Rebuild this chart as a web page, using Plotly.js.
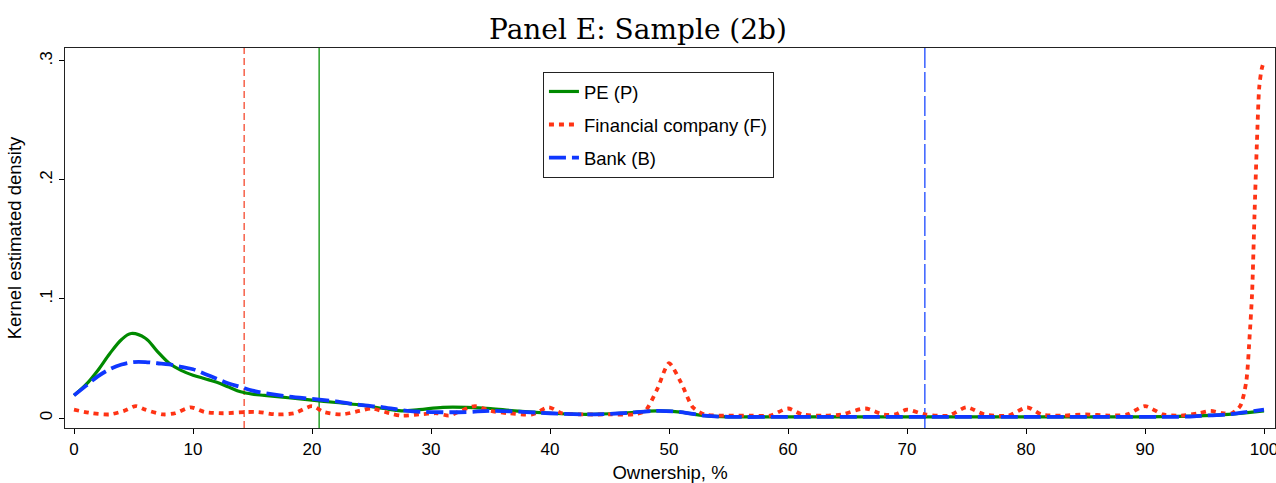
<!DOCTYPE html>
<html>
<head>
<meta charset="utf-8">
<script src="https://cdn.plot.ly/plotly-3.0.1.min.js"></script>
<style>html,body{margin:0;padding:0;background:#fff;}#chart{width:1276px;height:483px;}</style>
</head>
<body>
<div id="chart"></div>
<script>
// Series names
const seriesNames = ["PE (P)", "Financial company (F)", "Bank (B)"];

// PE (P) kernel density
const peX = [0,1,2,3,4,4.8,6,7,8,9,10,11,12,13,14,15,16,18,20,22,24,26,27.5,29,31,33,35,37,40,43,46,49,51,53,55,60,65,70,75,80,85,90,95,97,100];
const peY = [0.019,0.028,0.040,0.054,0.066,0.071,0.067,0.056,0.046,0.040,0.036,0.033,0.030,0.026,0.022,0.020,0.019,0.017,0.015,0.013,0.011,0.008,0.006,0.007,0.009,0.009,0.008,0.006,0.004,0.003,0.004,0.006,0.005,0.002,0.001,0.001,0.001,0.001,0.001,0.001,0.001,0.001,0.002,0.003,0.006];

// Financial company (F) kernel density
const fcX = [0,1.5,3,4.2,5.2,6,7.5,8.5,9.8,11,12.5,14.5,15.5,17,18.5,20,21,22.5,24,25,26.5,27.5,29,30.5,31.5,32.5,33.7,35,36.5,38.5,39.9,41,43,45,47,48,49,50,51,52,53,55,57,58.5,60,61.2,63,64.5,66.5,68,69,70,71.5,73.5,75,76.5,78.5,80.1,81.3,83,85,87,88.5,90,91.5,93,94.5,95.5,96.5,97.3,98,98.5,98.8,99,99.2,99.4,99.6,99.8,100];
const fcY = [0.007,0.004,0.003,0.006,0.010,0.007,0.003,0.004,0.009,0.005,0.004,0.005,0.005,0.003,0.004,0.010,0.005,0.003,0.006,0.008,0.004,0.002,0.003,0.004,0.002,0.006,0.010,0.006,0.004,0.003,0.009,0.004,0.003,0.003,0.003,0.006,0.024,0.046,0.030,0.009,0.003,0.002,0.002,0.002,0.008,0.003,0.002,0.003,0.008,0.003,0.003,0.007,0.003,0.002,0.009,0.003,0.002,0.009,0.003,0.002,0.003,0.002,0.003,0.010,0.003,0.002,0.004,0.006,0.004,0.004,0.010,0.030,0.070,0.105,0.170,0.230,0.278,0.293,0.300];

// Bank (B) kernel density
const bkX = [0,1,2,3,4,5,6,7,8,9,10,11,12,13,14,15,16,18,20,22,24,26,28,30,33,35,38,40,43,46,49,51,53,55,60,65,70,75,80,85,90,93,95,97,98.5,100];
const bkY = [0.019,0.027,0.035,0.041,0.045,0.047,0.047,0.046,0.045,0.043,0.041,0.037,0.033,0.029,0.026,0.023,0.021,0.018,0.016,0.014,0.011,0.009,0.006,0.005,0.005,0.006,0.005,0.004,0.003,0.004,0.006,0.005,0.002,0.001,0.001,0.001,0.001,0.001,0.001,0.001,0.001,0.001,0.002,0.003,0.005,0.007];

// Mean ownership reference lines: PE, Financial company, Bank
const meanValues = [20.6, 14.3, 71.5];

// Axis ticks
const xTickVals = [0,10,20,30,40,50,60,70,80,90,100];
const xTickText = ["0","10","20","30","40","50","60","70","80","90","100"];
const yTickVals = [0,0.1,0.2,0.3];
const yTickText = ["0",".1",".2",".3"];

const colors = ["#008a00", "#ff3314", "#0f37ff"];
const meanColors = ["#1a9a1a", "#f5553c", "#2b55ff"];
const meanDash = ["solid", "7px,4px", "20px,4px"];

const traces = [
  {x: peX, y: peY, name: seriesNames[0], type: "scatter", mode: "lines", legendgroup: "a",
   line: {color: colors[0], width: 3.2, shape: "spline", smoothing: 1}},
  {x: fcX, y: fcY, name: seriesNames[1], type: "scatter", mode: "lines", legendgroup: "b",
   line: {color: colors[1], width: 3.8, dash: "5px,5px", shape: "spline", smoothing: 0.7}},
  {x: bkX, y: bkY, name: seriesNames[2], type: "scatter", mode: "lines", legendgroup: "c",
   line: {color: colors[2], width: 3.8, dash: "17px,6px", shape: "spline", smoothing: 1}}
];

const shapes = meanValues.map((m, i) => ({
  type: "line", xref: "x", yref: "paper", x0: m, x1: m, y0: 0, y1: 1,
  line: {color: meanColors[i], width: 1.4, dash: meanDash[i]}, layer: "below"
}));

const layout = {
  width: 1276, height: 483,
  margin: {l: 65, r: 1, t: 48, b: 55},
  paper_bgcolor: "#fff", plot_bgcolor: "#fff",
  font: {family: "Liberation Sans, Arial, sans-serif", color: "#000", size: 17},
  title: {text: "Panel E: Sample (2b)", x: 0.5, xanchor: "center", y: 0.94, yanchor: "middle",
          font: {family: "DejaVu Serif, serif", size: 28, color: "#000"}},
  xaxis: {range: [-0.756, 100.924], tickvals: xTickVals, ticktext: xTickText,
          ticks: "outside", ticklen: 5, tickwidth: 1, tickcolor: "#000", ticklabeloverflow: "allow",
          showgrid: false, zeroline: false, showline: true, linecolor: "#222", linewidth: 1.3, mirror: true,
          tickfont: {size: 17},
          title: {text: "Ownership, %", font: {size: 18.5}, standoff: 8}},
  yaxis: {range: [-0.0084, 0.3109], tickvals: yTickVals, ticktext: yTickText, tickangle: -90,
          ticks: "outside", ticklen: 5, tickwidth: 1, tickcolor: "#000", ticklabeloverflow: "allow",
          showgrid: false, zeroline: false, showline: true, linecolor: "#222", linewidth: 1.3, mirror: true,
          tickfont: {size: 17},
          title: {text: "Kernel estimated density", font: {size: 18.5}, standoff: 10}},
  showlegend: true,
  legend: {x: 0.395, y: 0.937, xanchor: "left", yanchor: "top",
           bordercolor: "#222", borderwidth: 1, bgcolor: "#fff",
           font: {size: 18.5, color: "#000"}, tracegroupgap: 6, traceorder: "grouped"},
  shapes: shapes
};

Plotly.newPlot("chart", traces, layout, {displayModeBar: false, staticPlot: true});
</script>
</body>
</html>
